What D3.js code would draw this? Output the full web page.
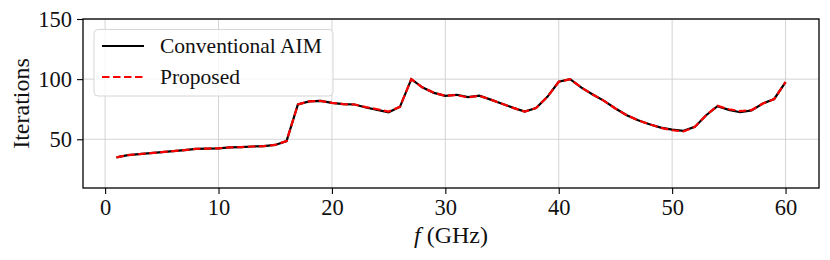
<!DOCTYPE html>
<html>
<head>
<meta charset="utf-8">
<script src="https://cdn.jsdelivr.net/npm/d3@7/dist/d3.min.js"></script>
<style>
  body { margin: 0; background: #fff; }
  text { font-family: "Liberation Serif", "DejaVu Serif", serif; }
</style>
</head>
<body>
<div id="chart"></div>
<script>
// frequency points (GHz)
var freq = [1, 2, 3, 4, 5, 6, 7, 8, 9, 10, 11, 12, 13, 14, 15, 16, 17, 18, 19, 20,
            21, 22, 23, 24, 25, 26, 27, 28, 29, 30, 31, 32, 33, 34, 35, 36, 37, 38, 39, 40,
            41, 42, 43, 44, 45, 46, 47, 48, 49, 50, 51, 52, 53, 54, 55, 56, 57, 58, 59, 60];

var conventional = [35, 36.8, 37.7, 38.5, 39.3, 40.2, 41, 42, 42.3, 42.5,
                    43.2, 43.5, 44, 44.3, 45.3, 48.5, 79, 81.5, 82, 80.3,
                    79.2, 78.9, 76.4, 74.4, 72.4, 77, 100, 93, 88.6, 86.1,
                    87, 85, 86.2, 83, 79.6, 76.1, 73, 76, 85.3, 97.8,
                    100, 93, 87.2, 81.9, 75.6, 70, 65.8, 62.5, 59.7, 58,
                    57, 60.3, 70, 77.5, 74.5, 72.5, 74, 79.7, 83.5, 97.5];

var proposed = [35, 36.8, 37.7, 38.5, 39.3, 40.2, 41, 42, 42.3, 42.5,
                43.2, 43.5, 44, 44.3, 45.3, 48.5, 79, 81.5, 82, 80.3,
                79.2, 78.9, 76.8, 75, 73, 77, 100, 93, 88.6, 86.1,
                86.8, 84.8, 86.2, 83, 79.6, 76.1, 73, 76, 85.3, 97.8,
                100, 93, 87.2, 81.9, 75.6, 70, 65.8, 62.5, 59.5, 57.5,
                56.5, 60.3, 70, 77.8, 75, 73.5, 74.3, 79.7, 83.5, 97.5];

var xTicks = [0, 10, 20, 30, 40, 50, 60];
var yTicks = [50, 100, 150];
var seriesNames = ["Conventional AIM", "Proposed"];

var width = 830,
    height = 260,
    margin = {top: 19, right: 11, bottom: 72, left: 83};

var svg = d3.select("#chart")
    .append("svg")
    .attr("width", width)
    .attr("height", height);

var x = d3.scaleLinear()
    .domain([-1.95, 62.95])
    .range([margin.left, width - margin.right]);

var y = d3.scaleLinear()
    .domain([9.5, 150])
    .range([height - margin.bottom, margin.top]);

// grid
svg.append("g")
    .selectAll("line.gx")
    .data(xTicks).enter()
    .append("line")
    .attr("x1", function(d) { return x(d); })
    .attr("x2", function(d) { return x(d); })
    .attr("y1", margin.top)
    .attr("y2", height - margin.bottom)
    .attr("stroke", "#cfcfcf")
    .attr("stroke-width", 0.9);

svg.append("g")
    .selectAll("line.gy")
    .data(yTicks).enter()
    .append("line")
    .attr("x1", margin.left)
    .attr("x2", width - margin.right)
    .attr("y1", function(d) { return y(d); })
    .attr("y2", function(d) { return y(d); })
    .attr("stroke", "#cfcfcf")
    .attr("stroke-width", 0.9);

// axes
var xAxis = svg.append("g")
    .attr("transform", "translate(0," + (height - margin.bottom) + ")")
    .call(d3.axisBottom(x).tickValues(xTicks).tickSize(6).tickPadding(5));

var yAxis = svg.append("g")
    .attr("transform", "translate(" + margin.left + ",0)")
    .call(d3.axisLeft(y).tickValues(yTicks).tickSize(6).tickPadding(5));

[xAxis, yAxis].forEach(function(ax) {
    ax.select(".domain").remove();
    ax.selectAll(".tick line").attr("stroke", "#000").attr("stroke-width", 1.1);
    ax.selectAll(".tick text")
        .attr("fill", "#111")
        .style("font-family", '"Liberation Serif", serif')
        .style("font-size", "22.5px");
});

// frame
svg.append("rect")
    .attr("x", margin.left)
    .attr("y", margin.top)
    .attr("width", width - margin.left - margin.right)
    .attr("height", height - margin.top - margin.bottom)
    .attr("fill", "none")
    .attr("stroke", "#000")
    .attr("stroke-width", 1.3);

// lines
var line = d3.line()
    .x(function(d) { return x(d[0]); })
    .y(function(d) { return y(d[1]); });

svg.append("path")
    .datum(d3.zip(freq, conventional))
    .attr("d", line)
    .attr("fill", "none")
    .attr("stroke", "#000")
    .attr("stroke-width", 2.2);

svg.append("path")
    .datum(d3.zip(freq, proposed))
    .attr("d", line)
    .attr("fill", "none")
    .attr("stroke", "#ff0000")
    .attr("stroke-width", 2.2)
    .attr("stroke-dasharray", "7.5,3.5");

// labels
svg.append("text")
    .attr("x", (margin.left + width - margin.right) / 2)
    .attr("y", 243)
    .attr("text-anchor", "middle")
    .attr("fill", "#111")
    .style("font-size", "24px")
    .html('<tspan font-style="italic">f</tspan> (GHz)');

svg.append("text")
    .attr("transform", "translate(29," + ((margin.top + height - margin.bottom) / 2) + ") rotate(-90)")
    .attr("text-anchor", "middle")
    .attr("fill", "#111")
    .style("font-size", "24px")
    .text("Iterations");

// legend
var legend = svg.append("g");

legend.append("rect")
    .attr("x", 94)
    .attr("y", 29.5)
    .attr("width", 239)
    .attr("height", 66.5)
    .attr("rx", 4)
    .attr("fill", "#fff")
    .attr("fill-opacity", 0.8)
    .attr("stroke", "#d6d6d6")
    .attr("stroke-width", 1);

var legendRows = legend.selectAll("g.row")
    .data(seriesNames).enter()
    .append("g")
    .attr("transform", function(d, i) { return "translate(0," + (46 + i * 31) + ")"; });

legendRows.append("line")
    .attr("x1", 102)
    .attr("x2", 144)
    .attr("y1", 0)
    .attr("y2", 0)
    .attr("stroke", function(d, i) { return i === 0 ? "#000" : "#ff0000"; })
    .attr("stroke-width", 2.2)
    .attr("stroke-dasharray", function(d, i) { return i === 0 ? null : "7.5,3.5"; });

legendRows.append("text")
    .attr("x", 160)
    .attr("y", 7)
    .attr("fill", "#111")
    .style("font-size", "21.5px")
    .text(function(d) { return d; });
</script>
</body>
</html>
